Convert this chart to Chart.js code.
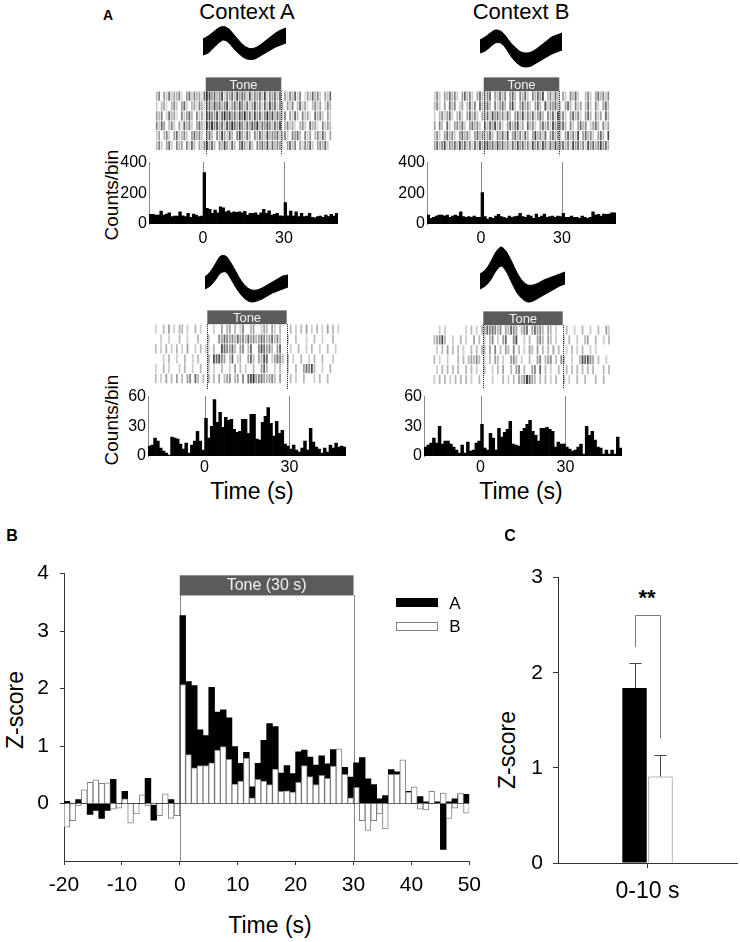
<!DOCTYPE html>
<html>
<head>
<meta charset="utf-8">
<script src="https://cdn.jsdelivr.net/npm/chart.js@4.4.1/dist/chart.umd.min.js"></script>
<style>
  body { margin: 0; background: #fff; }
  #fig { position: relative; width: 740px; height: 942px; overflow: hidden; font-family: 'Liberation Sans', Arial, Helvetica, sans-serif; color: #000; }
  #fig canvas { position: absolute; }
  .lbl { position: absolute; white-space: nowrap; line-height: 1; transform: translate(-50%, -50%); }
  .rot { transform: translate(-50%, -50%) rotate(-90deg); }
  .swatch { position: absolute; box-sizing: border-box; }
</style>
</head>
<body>
<div id="fig"></div>
<script>
// ---- data ----
// 1-s bins from -20 s to 50 s (bin centres)
const binCenters = Array.from({ length: 70 }, (_, i) => -19.5 + i);
const toneOn = 0, toneOff = 30;
const psthTicks = [0, 30];
const zTicksX = [-20, -10, 0, 10, 20, 30, 40, 50];
const zTicksY = [0, 1, 2, 3, 4];

// PSTH counts per bin (panel A)
const countsTopA = [63,63,58,58,84,58,65,73,48,52,52,80,54,48,69,43,65,58,48,52,
  335,102,95,69,91,73,112,106,80,86,73,80,76,80,73,82,58,69,69,73,58,73,95,69,86,58,63,69,54,52,
  140,54,84,52,80,48,69,48,52,69,43,41,48,52,43,58,48,63,52,69];
const countsTopB = [58,37,43,52,58,58,52,58,43,52,58,52,80,48,43,48,43,52,43,43,
  205,48,32,43,37,52,63,48,43,37,52,43,48,52,69,48,43,58,52,37,65,43,52,65,43,48,52,43,52,48,
  69,43,43,52,43,43,37,52,43,37,43,80,58,63,52,65,63,65,73,73];
const countsBottomA = [10,11,18,15,8,5,3,1,19,18,17,12,7,13,3,11,15,25,15,6,
  38,18,30,57,34,44,29,39,36,37,27,24,25,37,37,23,42,42,17,16,34,40,49,33,20,35,23,26,12,10,
  7,11,6,4,8,15,6,28,14,9,7,3,8,4,11,8,13,9,10,9];
const countsBottomB = [9,11,13,18,13,30,12,15,15,12,9,6,3,11,3,14,5,6,13,15,
  32,8,6,23,18,6,28,19,24,27,35,12,11,10,25,28,32,36,25,21,15,28,28,29,27,25,9,14,12,12,
  9,7,5,6,9,12,2,30,21,25,16,9,8,2,6,2,6,2,19,8];

// raster rows: one digit per 1-s bin, 0 = no spike, 1-9 = tick darkness
const rasterTopA = [
  '46053735462057364527' + '885746836574857638465748365747' + '05364736025374630537',
  '30452046305730452643' + '674857468357486473584637485736' + '40536047352046350364',
  '54603745206357406352' + '786584796857486957485746958475' + '36053740635207463053',
  '63750463052746305743' + '879685748697586475869475864758' + '04635204630745206354',
  '35046305734630574630' + '574064853740685374064753846573' + '46306574063504637405',
  '46305730645063740536' + '857406485374068537406574837465' + '30574605364730564730'
];
const rasterTopB = [
  '36305474630574630574' + '467054746057406473064758046374' + '05306473004630574636',
  '46305074603504736074' + '574063574068305746305740836574' + '30574063504730630574',
  '30463573046305746305' + '473857463740574836473574064738' + '46305746305740635074',
  '50640730564730574630' + '647584630574683507463057463857' + '57406305746035740635',
  '46305746305746305746' + '357406473805746374058463705746' + '30574638057463057408',
  '57468365748574637485' + '685748574637485746385748637485' + '57463857463857468574'
];
const rasterBottomA = [
  '30040503044030040300' + '003005045040360045003540530400' + '04030405030403050403',
  '00300300040030004000' + '400065765647564756457645746400' + '30040003004003000400',
  '40304030403050030403' + '304008765740560470068756405700' + '03004003040030040030',
  '00030400300400304000' + '508786504703400574054870357640' + '40300400304004000300',
  '30040300030400300400' + '403004003050403004005740030400' + '30040057684003004000',
  '40305040504056074040' + '504050456045060789567545640500' + '04030040003040040000'
];
const rasterBottomB = [
  '00030300000003040304' + '576764605476504670575640540300' + '04003004003004005300',
  '04568400300403005040' + '304603057006800304005640540300' + '30400300450040030400',
  '00304050404030040404' + '405060405406040305405040405040' + '03040304003030000000',
  '04030030004040454640' + '304054030056403004005604560406' + '40030048786504003000',
  '00304040404004040300' + '400304050040560400560704030040' + '04040404040400040400',
  '03040403040404030040' + '000300040304054697540404030400' + '40300400400040040000'
];

// spike waveform envelopes (arbitrary amplitude units, 17 samples)
const waveTopAUp = [22,25,29,33,34.5,32,26,20,15,12.5,13,16,20,24,28,31,33];
const waveTopALo = [6,8,13,18,21,18,12,7,3,1.5,2,5,8,11,14,16,18];
const waveTopBUp = [31,34,38,41,40,35,28,23,19,18,19,22,26,30,34,36,38];
const waveTopBLo = [18,20,24,28,28,23,15,9,5,4,5,8,11,14,17,19,21];
const waveBotAUp = [26,31,39,47,47,40,31,22,16,13,13,15,18,21,24,27,28];
const waveBotALo = [14,17,23,30,31,24,15,8,3,1,2,4,7,10,12,14,16];
const waveBotBUp = [29,33,41,51,56,51,41,30,22,18,18,20,23,25,27,29,31];
const waveBotBLo = [14,17,23,32,37,31,20,10,4,1,2,5,8,11,14,17,19];

// panel B: z-scores per bin, context A and context B
const zA = [0.04,0,0.07,0,-0.19,-0.12,-0.26,-0.12,0.42,0,0.21,0,0,0,0.44,-0.29,0,0,0.07,0,
  3.27,2.12,2.05,1.28,1.18,2.02,1.59,1.63,1.49,0.99,0.70,0.89,0.29,0.70,1.10,1.39,1.34,0.53,0.66,0.52,
  0.90,0.93,0.81,0.67,0.83,0.69,0.94,0.45,0.63,0.46,
  0.71,0.80,0.43,0.33,0.08,0.14,0.59,0.55,0.02,0.21,0,0.12,0.03,0,0.03,-0.80,0.03,0.08,0.16,0.16];
const zB = [-0.41,-0.30,-0.04,0.24,0.37,0.41,0.35,0.36,-0.10,-0.08,0.08,-0.34,-0.18,0.15,-0.04,-0.02,-0.21,0.17,-0.26,-0.21,
  2.07,0.85,0.62,0.66,0.66,0.71,0.93,0.99,0.77,0.34,0.39,0.79,0.10,0.42,0.39,0.33,0.60,0.21,0.22,0.20,
  0.37,0.66,0.47,0.33,0.49,0.44,0.65,0.95,0.51,0.10,
  0.28,-0.30,-0.47,-0.30,-0.18,-0.44,0.51,0.51,0.76,0.20,0.29,-0.10,-0.11,0.21,0,0.18,-0.26,-0.08,0.18,-0.17];

// panel C: mean z-score 0-10 s, with SEM
const cCategories = ['0-10 s'];
const cMeanA = [1.84];
const cMeanB = [0.91];
const cErrA = [0.26];
const cErrB = [0.22];

// ---- setup ----
Chart.defaults.font.family = "'Liberation Sans', Arial, Helvetica, sans-serif";
Chart.defaults.color = '#000';
Chart.defaults.animation = false;
Chart.defaults.events = [];
Chart.defaults.plugins.legend.display = false;
Chart.defaults.plugins.tooltip.enabled = false;

const fig = document.getElementById('fig');

function addCanvas(left, top, width, height) {
  const c = document.createElement('canvas');
  c.width = width;
  c.height = height;
  c.style.left = left + 'px';
  c.style.top = top + 'px';
  c.style.width = width + 'px';
  c.style.height = height + 'px';
  fig.appendChild(c);
  return c;
}

function addText(text, cx, cy, size, opts) {
  opts = opts || {};
  const d = document.createElement('div');
  d.className = 'lbl' + (opts.rot ? ' rot' : '');
  d.textContent = text;
  d.style.left = cx + 'px';
  d.style.top = cy + 'px';
  d.style.fontSize = size + 'px';
  if (opts.bold) d.style.fontWeight = 'bold';
  if (opts.color) d.style.color = opts.color;
  fig.appendChild(d);
  return d;
}

// tick darkness digit -> grey (light for low digits, near black for 9)
function shade(d) {
  const g = Math.max(0, Math.round(255 - 13 * d - 1.2 * d * d));
  return `rgb(${g},${g},${g})`;
}

function dotted(ctx, xs, y0, y1) {
  ctx.save();
  ctx.strokeStyle = '#111';
  ctx.lineWidth = 1;
  ctx.setLineDash([1, 1]);
  xs.forEach(x => {
    const px = Math.round(x) + 0.5;
    ctx.beginPath();
    ctx.moveTo(px, y0);
    ctx.lineTo(px, y1);
    ctx.stroke();
  });
  ctx.restore();
}

// one unit of panel A: waveform, tone bar + raster, PSTH
function buildUnit(L, rows, counts, waveUp, waveLo) {
  const plotW = L.right - L.left;

  // waveform
  const w = L.wave;
  new Chart(addCanvas(w[0], w[1], w[2], w[3]), {
    type: 'line',
    data: {
      datasets: [
        { data: waveLo.map((v, i) => ({ x: i, y: v })), borderColor: '#000', borderWidth: 1, pointRadius: 0, tension: 0.3, fill: false },
        { data: waveUp.map((v, i) => ({ x: i, y: v })), borderColor: '#000', borderWidth: 1, pointRadius: 0, tension: 0.3, fill: '-1', backgroundColor: '#000' }
      ]
    },
    options: {
      responsive: false, devicePixelRatio: 1,
      layout: { padding: 0 },
      scales: {
        x: { type: 'linear', display: false, min: 0, max: waveUp.length - 1 },
        y: { display: false, min: 0, max: w[3] }
      }
    }
  });

  // raster with tone bar above it
  const rowH = (L.rasterBottom - L.rasterTop) / rows.length;
  const pts = [], cols = [];
  rows.forEach((s, k) => {
    for (let i = 0; i < s.length; i++) {
      const d = +s[i];
      if (d > 0) {
        pts.push({ x: binCenters[i], y: rows.length - 0.5 - k });
        cols.push(shade(d));
      }
    }
  });
  const yMin = -(L.psthTop - L.rasterBottom) / rowH;
  const yMax = rows.length + (L.rasterTop - L.toneTop) / rowH;
  const toneLow = rows.length + (L.rasterTop - L.toneBottom) / rowH;

  const toneRaster = {
    id: 'toneRaster',
    afterDatasetsDraw(chart) {
      const { ctx, scales: { x, y } } = chart;
      const x0 = x.getPixelForValue(toneOn), x1 = x.getPixelForValue(toneOff);
      const yt = y.getPixelForValue(y.max), yb = y.getPixelForValue(toneLow);
      ctx.save();
      ctx.fillStyle = '#5b5b5b';
      ctx.fillRect(x0, yt, x1 - x0, yb - yt);
      ctx.restore();
      dotted(ctx, [x0, x1], yb, y.getPixelForValue(y.min));
    }
  };

  const rc = new Chart(addCanvas(L.left, L.toneTop, plotW, L.psthTop - L.toneTop), {
    type: 'scatter',
    data: {
      datasets: [{
        data: pts,
        pointStyle: 'line',
        pointRotation: 90,
        pointRadius: rowH * 0.4,
        pointBorderWidth: 1.8,
        pointBorderColor: c => cols[c.dataIndex],
        pointBackgroundColor: c => cols[c.dataIndex],
        showLine: false
      }]
    },
    options: {
      responsive: false, devicePixelRatio: 1,
      layout: { padding: 0 },
      scales: {
        x: { type: 'linear', display: false, min: -20, max: 50 },
        y: { display: false, min: yMin, max: yMax }
      }
    },
    plugins: [toneRaster]
  });
  const sx = rc.scales.x, sy = rc.scales.y;
  addText('Tone', L.left + sx.getPixelForValue((toneOn + toneOff) / 2),
    L.toneTop + (sy.getPixelForValue(sy.max) + sy.getPixelForValue(toneLow)) / 2, 13, { color: '#f2f2f2' });

  // PSTH
  const yAxisW = 45, padTop = 11, padRight = 2, xAxisH = 30;
  const toneLines = {
    id: 'toneLines',
    afterDatasetsDraw(chart) {
      const { ctx, chartArea, scales: { x } } = chart;
      dotted(ctx, [x.getPixelForValue(toneOn), x.getPixelForValue(toneOff)], chartArea.top, chartArea.bottom);
    }
  };
  new Chart(addCanvas(L.left - yAxisW, L.psthTop - padTop, yAxisW + plotW + padRight, padTop + (L.psthBottom - L.psthTop) + xAxisH), {
    type: 'bar',
    data: {
      datasets: [{
        data: counts.map((c, i) => ({ x: binCenters[i], y: c })),
        backgroundColor: '#000',
        borderWidth: 0,
        barPercentage: 1,
        categoryPercentage: 1
      }]
    },
    options: {
      responsive: false, devicePixelRatio: 1,
      layout: { padding: { top: padTop, right: padRight, left: 0, bottom: 0 } },
      scales: {
        x: {
          type: 'linear', offset: false, min: -20, max: 50,
          afterBuildTicks: s => { s.ticks = psthTicks.map(v => ({ value: v })); },
          ticks: { font: { size: 16 }, padding: L.xPad, autoSkip: false, maxRotation: 0 },
          grid: { display: false, drawTicks: false, offset: false },
          border: { display: false },
          afterFit: s => { s.height = xAxisH; }
        },
        y: {
          min: 0, max: L.yMax,
          ticks: { stepSize: L.yStep, font: { size: 16 }, padding: 2 },
          grid: { display: false, drawTicks: false },
          border: { display: true, color: '#8a8a8a', dash: [1, 1] },
          afterFit: s => { s.width = yAxisW; }
        }
      }
    },
    plugins: [toneLines]
  });
}

// ---- panel A ----
addText('A', 108, 15, 14, { bold: true });
addText('Context A', 247, 12, 22);
addText('Context B', 521, 12, 22);
addText('Counts/bin', 111, 195, 19, { rot: true });
addText('Counts/bin', 111, 420, 19, { rot: true });
addText('Time (s)', 252, 491, 23);
addText('Time (s)', 521, 491, 23);

buildUnit({ left: 149, right: 338, toneTop: 71, toneBottom: 87, rasterTop: 87, rasterBottom: 156, psthTop: 162, psthBottom: 224, yMax: 400, yStep: 200, xPad: 5, wave: [203, 25, 83, 36] },
  rasterTopA, countsTopA, waveTopAUp, waveTopALo);
buildUnit({ left: 427, right: 616, toneTop: 71, toneBottom: 87, rasterTop: 87, rasterBottom: 156, psthTop: 162, psthBottom: 224, yMax: 400, yStep: 200, xPad: 5, wave: [480, 27, 82, 44] },
  rasterTopB, countsTopB, waveTopBUp, waveTopBLo);
buildUnit({ left: 148, right: 346, toneTop: 304, toneBottom: 320, rasterTop: 320, rasterBottom: 389, psthTop: 396, psthBottom: 456, yMax: 60, yStep: 30, xPad: 2, wave: [205, 253, 83, 50] },
  rasterBottomA, countsBottomA, waveBotAUp, waveBotALo);
buildUnit({ left: 424, right: 622, toneTop: 305, toneBottom: 321, rasterTop: 321, rasterBottom: 390, psthTop: 396, psthBottom: 456, yMax: 60, yStep: 30, xPad: 2, wave: [480, 245, 85, 58] },
  rasterBottomB, countsBottomB, waveBotBUp, waveBotBLo);

// ---- panel B ----
addText('B', 12, 536, 16, { bold: true });
addText('Z-score', 15, 710, 23, { rot: true });
addText('Time (s)', 270, 925, 23);

const toneBarZ = [3.62, 3.97];
const bLeft = 14, bTop = 550;
const toneB = {
  id: 'toneB',
  afterDatasetsDraw(chart) {
    const { ctx, scales: { x, y } } = chart;
    const x0 = x.getPixelForValue(toneOn), x1 = x.getPixelForValue(toneOff);
    const yt = y.getPixelForValue(toneBarZ[1]), yb = y.getPixelForValue(toneBarZ[0]);
    ctx.save();
    ctx.fillStyle = '#5b5b5b';
    ctx.fillRect(x0, yt, x1 - x0, yb - yt);
    ctx.restore();
    dotted(ctx, [x0, x1], yb, y.getPixelForValue(y.min));
  }
};
const zChart = new Chart(addCanvas(bLeft, bTop, 475, 356), {
  type: 'bar',
  data: {
    datasets: [
      { label: 'B', data: zB.map((v, i) => ({ x: binCenters[i], y: v })), backgroundColor: '#fff', borderColor: '#808080', borderWidth: 1, grouped: false, order: 0, barPercentage: 1, categoryPercentage: 1 },
      { label: 'A', data: zA.map((v, i) => ({ x: binCenters[i], y: v })), backgroundColor: '#000', borderWidth: 0, grouped: false, order: 1, barPercentage: 1, categoryPercentage: 1 }
    ]
  },
  options: {
    responsive: false, devicePixelRatio: 1,
    layout: { padding: { top: 14, right: 14, left: 0, bottom: 0 } },
    scales: {
      x: {
        type: 'linear', offset: false, min: -20, max: 50,
        afterBuildTicks: s => { s.ticks = zTicksX.map(v => ({ value: v })); },
        ticks: { font: { size: 21 }, padding: 8, autoSkip: false, maxRotation: 0 },
        grid: { display: true, drawOnChartArea: false, tickLength: 4, color: '#333', offset: false },
        border: { color: '#333' },
        afterFit: s => { s.height = 45; }
      },
      y: {
        min: -1, max: 4,
        afterBuildTicks: s => { s.ticks = zTicksY.map(v => ({ value: v })); },
        ticks: { font: { size: 21 }, padding: 11 },
        grid: { color: c => (c.tick && c.tick.value === 0 ? '#8c8c8c' : 'rgba(0,0,0,0)'), tickColor: '#333', tickLength: 4 },
        border: { color: '#333' },
        afterFit: s => { s.width = 50; }
      }
    }
  },
  plugins: [toneB]
});
{
  const x = zChart.scales.x, y = zChart.scales.y;
  addText('Tone (30 s)', bLeft + x.getPixelForValue((toneOn + toneOff) / 2),
    bTop + (y.getPixelForValue(toneBarZ[0]) + y.getPixelForValue(toneBarZ[1])) / 2, 16, { color: '#f2f2f2' });
}

// legend for panel B
function addSwatch(left, top, w, h, bg, border) {
  const s = document.createElement('div');
  s.className = 'swatch';
  s.style.left = left + 'px'; s.style.top = top + 'px';
  s.style.width = w + 'px'; s.style.height = h + 'px';
  s.style.background = bg;
  if (border) s.style.border = '1px solid ' + border;
  fig.appendChild(s);
}
addSwatch(396, 598, 42, 9, '#000');
addText('A', 455, 603, 17);
addSwatch(396, 622, 42, 9, '#fff', '#808080');
addText('B', 455, 626, 17);

// ---- panel C ----
addText('C', 510, 536, 16, { bold: true });
addText('Z-score', 507, 750, 23, { rot: true });
addText('**', 647, 598, 22, { bold: true });

const bracketZ = [2.27, 2.61, 1.31];
const cExtras = {
  id: 'cExtras',
  afterDatasetsDraw(chart) {
    const { ctx, scales: { y } } = chart;
    const means = [cMeanA[0], cMeanB[0]], errs = [cErrA[0], cErrB[0]];
    const xs = [];
    ctx.save();
    ctx.lineWidth = 1;
    ctx.strokeStyle = '#444';
    [0, 1].forEach(i => {
      const bar = chart.getDatasetMeta(i).data[0];
      const px = Math.round(bar.x) + 0.5;
      xs.push(px);
      const top = Math.round(y.getPixelForValue(means[i] + errs[i])) + 0.5;
      ctx.beginPath();
      ctx.moveTo(px, bar.y);
      ctx.lineTo(px, top);
      ctx.moveTo(px - 6, top);
      ctx.lineTo(px + 6, top);
      ctx.stroke();
    });
    ctx.strokeStyle = '#7a7a7a';
    const yb0 = y.getPixelForValue(bracketZ[0]), ybt = Math.round(y.getPixelForValue(bracketZ[1])) + 0.5, yb1 = y.getPixelForValue(bracketZ[2]);
    ctx.beginPath();
    ctx.moveTo(xs[0], yb0);
    ctx.lineTo(xs[0], ybt);
    ctx.lineTo(xs[1], ybt);
    ctx.lineTo(xs[1], yb1);
    ctx.stroke();
    ctx.restore();
  }
};

new Chart(addCanvas(513, 555, 226, 353), {
  type: 'bar',
  data: {
    labels: cCategories,
    datasets: [
      { label: 'A', data: cMeanA, backgroundColor: '#000', borderWidth: 0, barPercentage: 0.94, categoryPercentage: 0.29 },
      { label: 'B', data: cMeanB, backgroundColor: '#fff', borderColor: '#777', borderWidth: 1, barPercentage: 0.94, categoryPercentage: 0.29 }
    ]
  },
  options: {
    responsive: false, devicePixelRatio: 1,
    layout: { padding: { top: 14, right: 2, left: 0, bottom: 0 } },
    scales: {
      x: {
        ticks: { font: { size: 23 }, padding: 10 },
        grid: { display: true, drawOnChartArea: false, offset: false, tickLength: 5, color: '#333' },
        border: { color: '#333' },
        afterFit: s => { s.height = 45; }
      },
      y: {
        min: 0, max: 3,
        ticks: { stepSize: 1, font: { size: 21 }, padding: 10 },
        grid: { display: true, drawOnChartArea: false, tickLength: 5, color: '#333' },
        border: { color: '#333' },
        afterFit: s => { s.width = 45; }
      }
    }
  },
  plugins: [cExtras]
});
</script>
</body>
</html>
